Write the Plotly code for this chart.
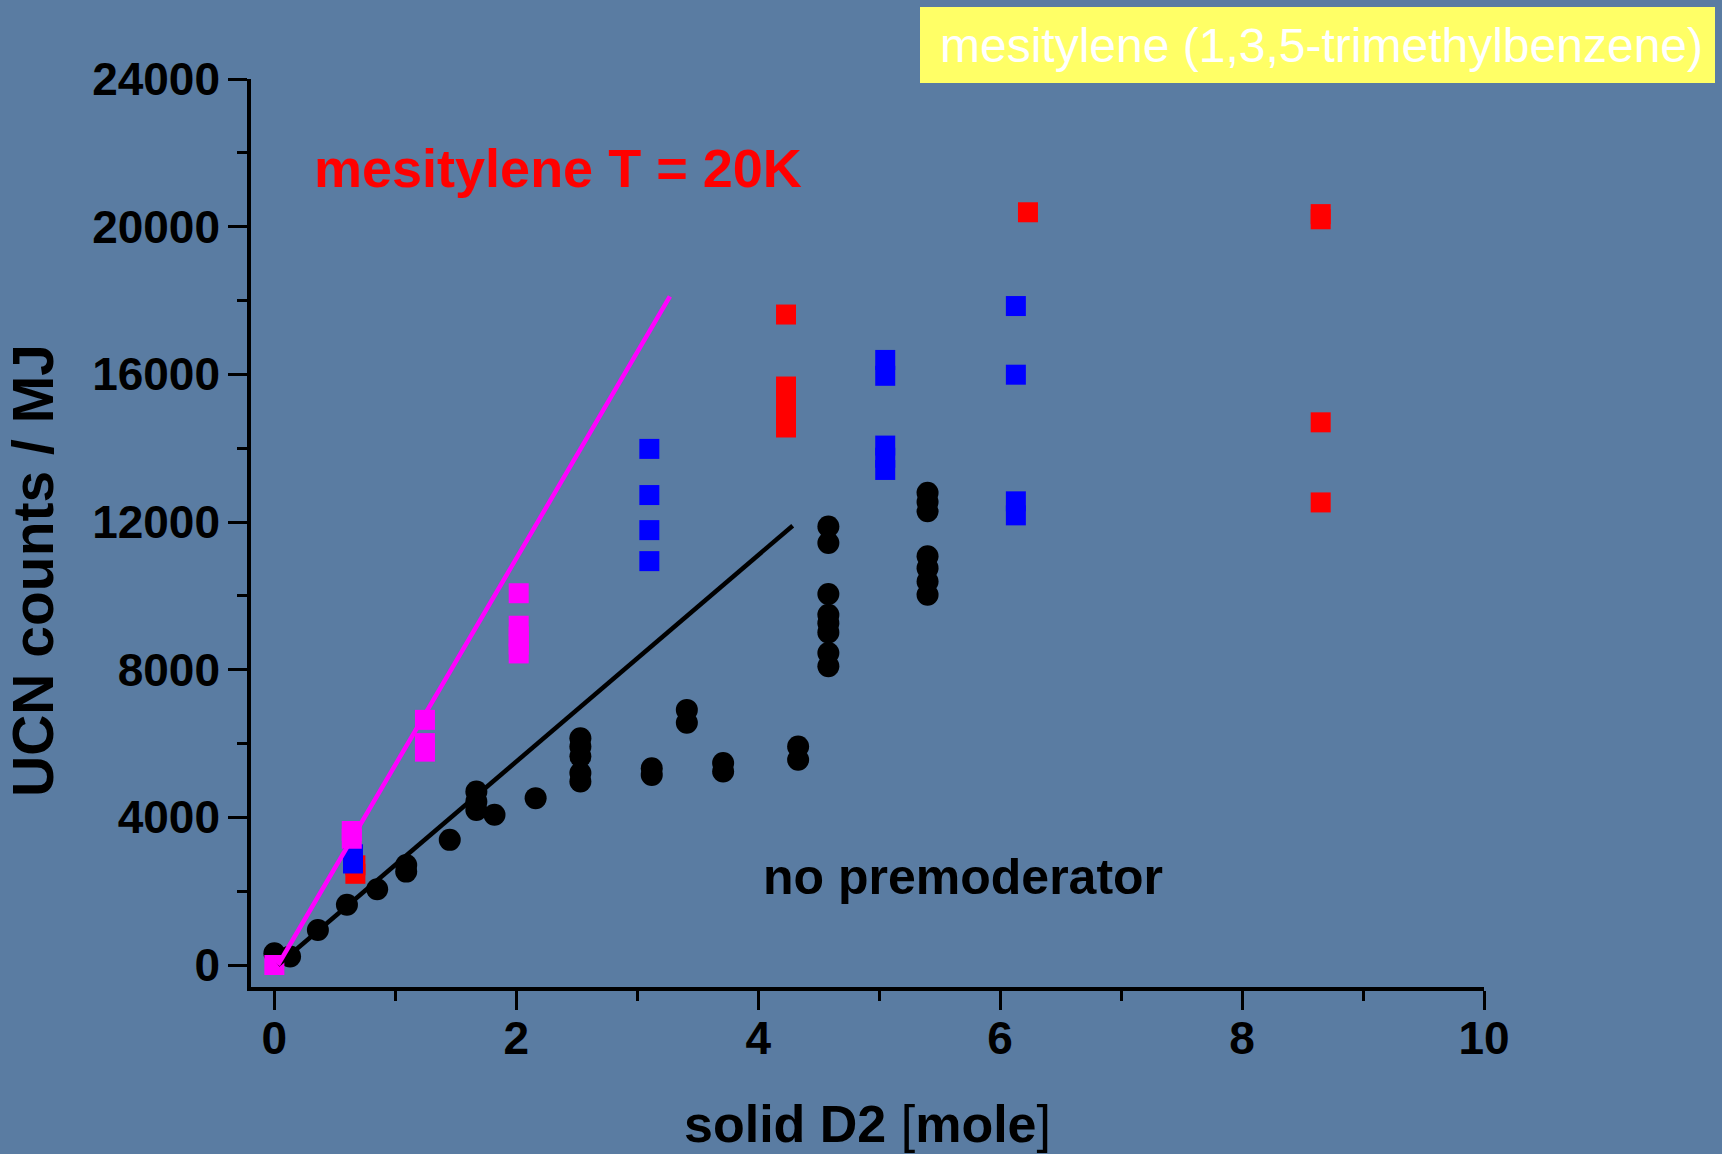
import plotly.graph_objects as go

# ---------------- data ----------------
# no premoderator (black circles)
black_x = [0.0, 0.13, 0.36, 0.60, 0.85, 1.09, 1.09, 1.45, 1.67, 1.67, 1.67, 1.82, 2.16,
           2.53, 2.53, 2.53, 2.53, 2.53, 3.12, 3.12, 3.41, 3.41, 3.71, 3.71, 4.33, 4.33,
           4.58, 4.58, 4.58, 4.58, 4.58, 4.58, 4.58, 4.58,
           5.40, 5.40, 5.40, 5.40, 5.40, 5.40, 5.40]
black_y = [320, 230, 950, 1630, 2050, 2710, 2530, 3390, 4700, 4430, 4200, 4070, 4520,
           6140, 5920, 5650, 5200, 4970, 5330, 5150, 6910, 6560, 5470, 5240, 5920, 5560,
           11880, 11430, 10050, 9490, 9260, 9010, 8450, 8090,
           12790, 12540, 12290, 11070, 10750, 10390, 10030]

# mesitylene T = 20K (red squares)
red_x = [0.67, 0.67, 4.23, 4.23, 4.23, 4.23, 4.23, 6.23, 8.65, 8.65, 8.65, 8.65]
red_y = [2470, 2700, 17620, 15670, 15300, 14900, 14560, 20390, 20340, 20200, 14700, 12530]

# blue squares
blue_x = [0.65, 0.65, 3.10, 3.10, 3.10, 3.10, 5.05, 5.05, 5.05, 5.05, 5.05,
          6.13, 6.13, 6.13, 6.13]
blue_y = [2750, 3000, 13980, 12730, 11780, 10940, 16390, 15960, 14070, 13740, 13410,
          17850, 15990, 12560, 12180]

# magenta squares
mag_x = [0.0, 0.64, 0.64, 1.245, 1.245, 1.245, 2.02, 2.02, 2.02, 2.02, 2.02]
mag_y = [0, 3630, 3420, 6640, 6010, 5780, 10070, 9190, 8900, 8680, 8440]

# linear fits
fit_black_x = [0.03, 4.285]
fit_black_y = [0, 11900]
fit_mag_x = [0.03, 3.27]
fit_mag_y = [0, 18110]

x_ticks = [0, 2, 4, 6, 8, 10]
y_ticks = [0, 4000, 8000, 12000, 16000, 20000, 24000]

# ---------------- figure ----------------
FONT = "Liberation Sans, Arial, sans-serif"
BG = "#5a7ca2"
L, R, T, B = 251, 238, 79, 167
W, H = 1722, 1154
PW, PH = W - L - R, H - T - B


def px(xp):
    return (xp - L) / PW


def py(yp):
    return (H - B - yp) / PH


fig = go.Figure()

fig.add_trace(go.Scatter(x=black_x, y=black_y, mode="markers", name="no premoderator",
                         marker=dict(symbol="circle", size=22, color="black", line=dict(width=0))))
fig.add_trace(go.Scatter(x=red_x, y=red_y, mode="markers", name="mesitylene 20K",
                         marker=dict(symbol="square", size=20, color="#ff0000", line=dict(width=0))))
fig.add_trace(go.Scatter(x=blue_x, y=blue_y, mode="markers", name="blue",
                         marker=dict(symbol="square", size=20, color="#0000ff", line=dict(width=0))))
fig.add_trace(go.Scatter(x=mag_x, y=mag_y, mode="markers", name="magenta",
                         marker=dict(symbol="square", size=20, color="#ff00ff", line=dict(width=0))))
fig.add_trace(go.Scatter(x=fit_black_x, y=fit_black_y, mode="lines", name="fit black",
                         line=dict(color="black", width=4.5)))
fig.add_trace(go.Scatter(x=fit_mag_x, y=fit_mag_y, mode="lines", name="fit magenta",
                         line=dict(color="#ff00ff", width=4.5)))

fig.update_layout(
    width=W, height=H,
    margin=dict(l=L, r=R, t=T, b=B),
    paper_bgcolor=BG, plot_bgcolor=BG,
    showlegend=False,
    font=dict(family=FONT, color="black"),
    xaxis=dict(
        range=[-0.193, 10.0], showgrid=False, zeroline=False, automargin=False,
        showline=True, linecolor="black", linewidth=3.5,
        tickmode="array", tickvals=x_ticks, ticktext=[str(v) for v in x_ticks],
        ticks="outside", ticklen=19, tickwidth=3, tickcolor="black",
        tickfont=dict(family=FONT, size=46, color="black", weight="bold"),
        ticklabelstandoff=-11,
        minor=dict(dtick=1, tick0=0, ticks="outside", ticklen=10, tickwidth=3, tickcolor="black"),
    ),
    yaxis=dict(
        range=[-596, 24000], showgrid=False, zeroline=False, automargin=False,
        showline=True, linecolor="black", linewidth=3.5,
        tickmode="array", tickvals=y_ticks, ticktext=[str(v) for v in y_ticks],
        ticks="outside", ticklen=19, tickwidth=3, tickcolor="black",
        tickfont=dict(family=FONT, size=46, color="black", weight="bold"),
        ticklabelstandoff=-1,
        minor=dict(dtick=2000, tick0=0, ticks="outside", ticklen=10, tickwidth=3, tickcolor="black"),
    ),
)

# axis titles (annotations, to sit exactly where the reference puts them)
fig.add_annotation(text="<b>solid D2 </b><span style='font-weight:normal'>[</span><b>mole</b><span style='font-weight:normal'>]</span>",
                   xref="paper", yref="paper", x=px(867), y=py(1124),
                   xanchor="center", yanchor="middle", showarrow=False,
                   font=dict(family=FONT, size=52, color="black"))
fig.add_annotation(text="<b>UCN counts / MJ</b>", xref="paper", yref="paper",
                   x=px(33), y=py(571), xanchor="center", yanchor="middle",
                   textangle=-90, showarrow=False,
                   font=dict(family=FONT, size=57, color="black"))

# yellow header box
fig.add_shape(type="rect", xref="paper", yref="paper",
              x0=px(920), x1=px(1715), y0=py(83), y1=py(7),
              fillcolor="#ffff66", line=dict(width=0), layer="above")
fig.add_annotation(text="mesitylene (1,3,5-trimethylbenzene)", xref="paper", yref="paper",
                   x=px(1321), y=py(46), xanchor="center", yanchor="middle",
                   showarrow=False, font=dict(family=FONT, size=48, color="white"))

fig.add_annotation(text="<b>mesitylene T = 20K</b>", xref="paper", yref="paper",
                   x=px(558), y=py(168), xanchor="center", yanchor="middle",
                   showarrow=False, font=dict(family=FONT, size=54, color="#ff0000"))
fig.add_annotation(text="<b>no premoderator</b>", xref="paper", yref="paper",
                   x=px(963), y=py(877), xanchor="center", yanchor="middle",
                   showarrow=False, font=dict(family=FONT, size=50, color="black"))

fig.write_html("out.html", config={"displayModeBar": False},
               post_script="document.body.style.margin='0';document.body.style.background='" + BG + "';")
